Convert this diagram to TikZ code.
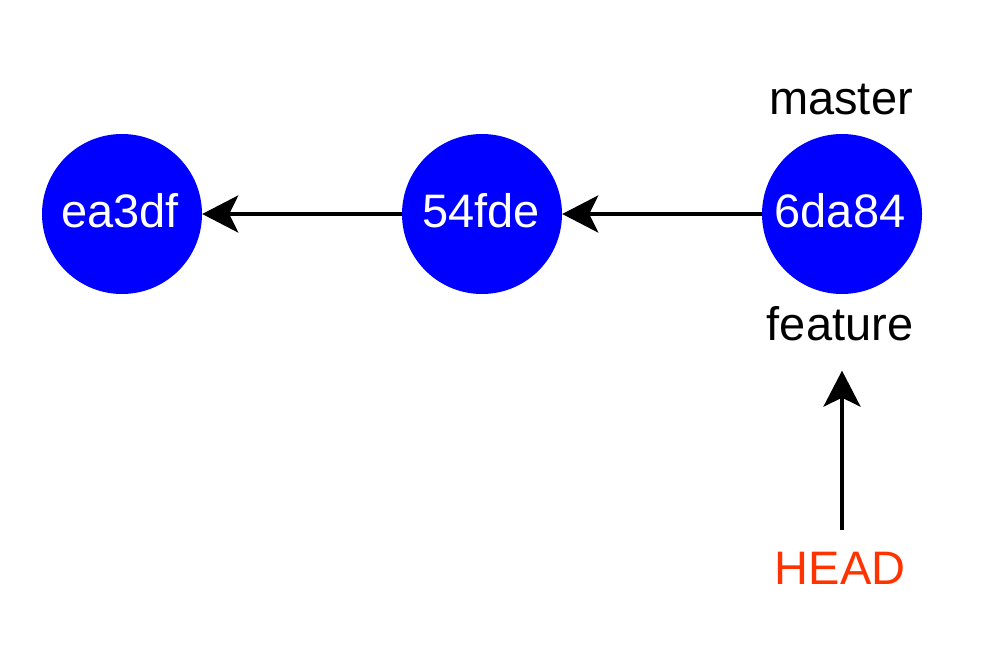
\documentclass[tikz,border=0pt]{standalone}
\usepackage{fontspec}
\setmainfont{Liberation Sans}
\usetikzlibrary{arrows.meta}
\definecolor{commitblue}{RGB}{0,0,255}
\definecolor{headred}{RGB}{255,51,0}
\begin{document}
\begin{tikzpicture}[x=1pt,y=-1pt,
  commit/.style={circle,fill=commitblue,draw=none,minimum size=160pt,inner sep=0pt},
  ctext/.style={anchor=base,inner sep=0pt,text=white,font=\fontsize{47}{56}\selectfont},
  lbl/.style={anchor=base,inner sep=0pt,font=\fontsize{47}{56}\selectfont},
  conn/.style={line width=4pt,-{Stealth[length=36pt,width=37pt,inset=9pt]}}]
\useasboundingbox (0,0) rectangle (1000,668);
\node[commit] (c1) at (122,214) {};
\node[commit] (c2) at (482,214) {};
\node[commit] (c3) at (842,214) {};
\node[ctext] (t1) at (120,228) {ea3df};
\node[ctext] (t2) at (481,228) {54fde};
\node[ctext] (t3) at (840,228) {6da84};
\node[lbl] (master) at (841,115) {master};
\node[lbl] (feat) at (840,340) {feature};
\node[lbl,text=headred] (head) at (840,584) {HEAD};
\draw[conn] (c2) -- (c1);
\draw[conn] (c3) -- (c2);
\draw[conn,shorten <=21pt,shorten >=30pt] (head.north -| c3) -- (feat.south -| c3);
\end{tikzpicture}
\end{document}
